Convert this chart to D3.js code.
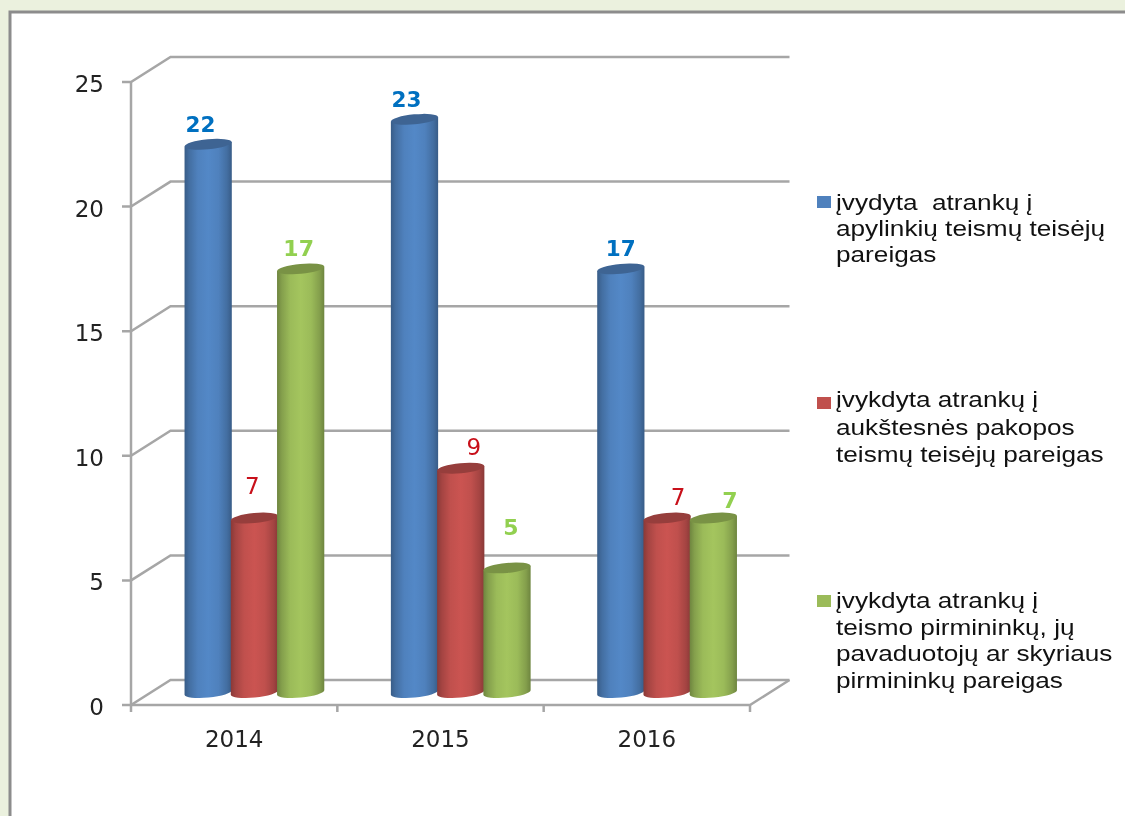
<!DOCTYPE html>
<html>
<head>
<meta charset="utf-8">
<script src="https://cdn.jsdelivr.net/npm/d3@7"></script>
<style>
  html, body { margin: 0; padding: 0; background: #ebf1de; }
  svg { display: block; filter: blur(0.45px); }
  text { font-family: "DejaVu Sans", sans-serif; }
  .legend text { font-family: "Liberation Sans", Arial, sans-serif; white-space: pre; }
</style>
</head>
<body>
<svg id="chart" width="1125" height="816"></svg>
<script>
// chart values
var years = ["2014", "2015", "2016"];
var ivydyta = [22, 23, 17];
var aukstesnes = [7, 9, 7];
var pirmininku = [17, 5, 7];
var yTicks = [0, 5, 10, 15, 20, 25];

var seriesNames = ["ivydyta", "aukstesnes", "pirmininku"];
var seriesValues = [ivydyta, aukstesnes, pirmininku];
var seriesFill = ["#4f81bd", "#c0504d", "#9bbb59"];
var legendLines = [
  ["įvydyta  atrankų į", "apylinkių teismų teisėjų", "pareigas"],
  ["įvykdyta atrankų į", "aukštesnės pakopos", "teismų teisėjų pareigas"],
  ["įvykdyta atrankų į", "teismo pirmininkų, jų", "pavaduotojų ar skyriaus", "pirmininkų pareigas"]
];

// data labels were placed by hand in the original, so each has its own nudge
var labelFill = ["#0070c0", "#c8101a", "#92d050"];
var labelWeight = ["bold", "normal", "bold"];
var labelSize = [21.5, 23, 22];
var labelDx = [[-7.7, -8, 0], [-2, 13, 11], [-2, 4, 16.5]];
var labelDy = [[-12, -12, -13], [-24, -13, -13], [-13, -33, -10]];

var svg = d3.select("#chart");

// white panel, right and bottom edges run off the page
svg.append("rect").attr("x", 10).attr("y", 12).attr("width", 1130).attr("height", 830)
  .attr("fill", "#fff").attr("stroke", "#8c8c8c").attr("stroke-width", 3);

// front plane of the 3d box
var x = d3.scaleBand().domain(years).range([131, 750]);
var y = d3.scaleLinear().domain([0, 25]).range([705, 82]);
var depthX = 39.5, depthY = -25;

var walls = svg.append("g").attr("fill", "none").attr("stroke", "#a6a6a6").attr("stroke-width", 2.5);
var line = d3.line();

// tick, slanted bit on the side wall, line on the back wall
yTicks.forEach(function(t) {
  walls.append("path").attr("d", line([
    [x.range()[0] - 9, y(t)],
    [x.range()[0], y(t)],
    [x.range()[0] + depthX, y(t) + depthY],
    [x.range()[1] + depthX, y(t) + depthY]
  ]));
});
// floor front and side
walls.append("path").attr("d", line([
  [x.range()[0], y(0)], [x.range()[1], y(0)], [x.range()[1] + depthX, y(0) + depthY]
]));
// y axis line
walls.append("path").attr("d", line([[x.range()[0], y(25)], [x.range()[0], y(0) + 7]]));
// x ticks
years.forEach(function(d) {
  walls.append("path").attr("d", line([[x(d) + x.bandwidth(), y(0)], [x(d) + x.bandwidth(), y(0) + 7]]));
});

// axis labels
svg.append("g").selectAll("text").data(yTicks).join("text")
  .attr("x", 104).attr("y", function(d) { return y(d) + 10; })
  .attr("text-anchor", "end").attr("font-size", 23).attr("fill", "#222")
  .text(function(d) { return d; });
svg.append("g").selectAll("text").data(years).join("text")
  .attr("x", function(d) { return x(d) + x.bandwidth() / 2; }).attr("y", 746.5)
  .attr("text-anchor", "middle").attr("font-size", 23).attr("fill", "#222")
  .text(function(d) { return d; });

// gradients for cylinders
var defs = svg.append("defs");
seriesFill.forEach(function(c, i) {
  var g = defs.append("linearGradient").attr("id", "cyl" + i);
  var stops = [[0, 0.95], [10, 0.45], [28, 0], [50, -0.15], [72, 0], [90, 0.45], [100, 0.95]];
  stops.forEach(function(s) {
    g.append("stop").attr("offset", s[0] + "%").attr("stop-color", d3.color(c).darker(s[1]));
  });
});

// bars sit in the middle of the depth
var groupWidth = 138.75;
var series = d3.scaleBand().domain(seriesNames).range([0, groupWidth]);
var midX = depthX / 2, midY = depthY / 2;
var capRy = 5, capRot = -5.5;
var capRise = Math.sin(-capRot * Math.PI / 180);

function cylinder(left, w, topY, bottomY) {
  var rx = w / 2, rise = rx * capRise;
  return "M" + left + "," + (topY + rise) +
    "L" + left + "," + (bottomY + rise) +
    "A" + rx + " " + capRy + " " + capRot + " 0 0 " + (left + w) + "," + (bottomY - rise) +
    "L" + (left + w) + "," + (topY - rise) + "Z";
}

seriesNames.forEach(function(name, i) {
  var bars = svg.append("g");
  var bw = series.bandwidth() + 1;
  var offset = (x.bandwidth() - groupWidth) / 2;
  seriesValues[i].forEach(function(v, k) {
    var left = x(years[k]) + midX + offset + series(name);
    var top = y(v) + midY, base = y(0) + midY;
    bars.append("path").attr("d", cylinder(left, bw, top, base)).attr("fill", "url(#cyl" + i + ")");
    bars.append("ellipse")
      .attr("cx", left + bw / 2).attr("cy", top).attr("rx", bw / 2).attr("ry", capRy)
      .attr("transform", "rotate(" + capRot + " " + (left + bw / 2) + " " + top + ")")
      .attr("fill", d3.color(seriesFill[i]).darker(0.7));
    svg.append("text")
      .attr("x", left + bw / 2 + labelDx[i][k])
      .attr("y", top + labelDy[i][k])
      .attr("text-anchor", "middle").attr("font-size", labelSize[i])
      .attr("font-weight", labelWeight[i]).attr("fill", labelFill[i])
      .text(v);
  });
});

// legend, text is stretched sideways in the original
var swatchTop = [196, 397, 595];
var firstBaseline = [210, 407, 608];
var lineGap = [26, 27.5, 26.7];
var legend = svg.append("g").attr("class", "legend");
legendLines.forEach(function(lines, i) {
  legend.append("rect").attr("x", 817).attr("y", swatchTop[i]).attr("width", 14).attr("height", 12)
    .attr("fill", seriesFill[i]);
  lines.forEach(function(l, n) {
    legend.append("text")
      .attr("transform", "translate(836," + (firstBaseline[i] + n * lineGap[i]) + ") scale(1.19,1)")
      .attr("font-size", 22).attr("fill", "#111").text(l);
  });
});
</script>
</body>
</html>
